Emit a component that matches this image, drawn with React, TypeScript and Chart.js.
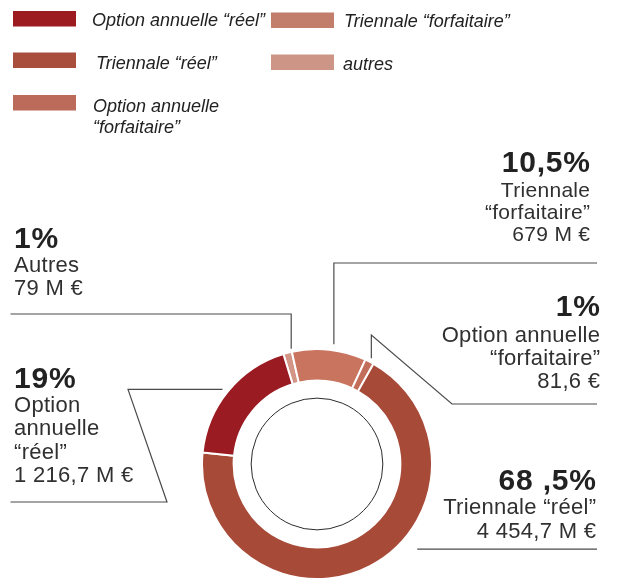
import React, { useEffect, useRef } from "react";
import { Chart, registerables } from "chart.js";

Chart.register(...registerables);

// ---------------- data ----------------
const sliceNames = [
  "autres",
  "Triennale “forfaitaire”",
  "Option annuelle “forfaitaire”",
  "Triennale “réel”",
  "Option annuelle “réel”",
];
const sliceValues = [79, 679, 81.6, 4454.7, 1216.7]; // M €
const sliceColors = ["#d39686", "#c8745f", "#c26e5b", "#a84a38", "#9a1b21"];
const slicePercents = ["1%", "10,5%", "1%", "68 ,5%", "19%"];
const sliceCaptions = [
  ["Autres", "79 M €"],
  ["Triennale", "“forfaitaire”", "679 M €"],
  ["Option annuelle", "“forfaitaire”", "81,6 €"],
  ["Triennale “réel”", "4 454,7 M €"],
  ["Option", "annuelle", "“réel”", "1 216,7 M €"],
];

const legendLabels = [
  ["Option annuelle “réel”"],
  ["Triennale “réel”"],
  ["Option annuelle", "“forfaitaire”"],
  ["Triennale “forfaitaire”"],
  ["autres"],
];
const legendColors = ["#9c1b21", "#a94e3d", "#bc6b5a", "#c27e6b", "#cc9585"];

// ---------------- layout ----------------
const W = 624;
const H = 581;
type P = [number, number];

const legendLayout = [
  { sx: 13, sy: 11, tx: 92, ty: 25.5 },
  { sx: 13, sy: 52.5, tx: 96, ty: 68.5 },
  { sx: 13, sy: 95, tx: 93, ty: 111.5 },
  { sx: 271, sy: 12.5, tx: 344, ty: 26.5 },
  { sx: 271, sy: 54.5, tx: 343, ty: 70 },
];
const SW = 63;
const SH = 15.5;
const LEG_PITCH = 21.5;

const calloutLayout = [
  { x: 14, align: "left", pctBase: 248, lineBase: 272, pitch: 23.3, reg: 22 },
  { x: 590, align: "right", pctBase: 172, lineBase: 197, pitch: 22, reg: 21 },
  { x: 600, align: "right", pctBase: 316, lineBase: 341.5, pitch: 23, reg: 22 },
  { x: 596, align: "right", pctBase: 489.5, lineBase: 514, pitch: 23.5, reg: 22 },
  { x: 14, align: "left", pctBase: 388, lineBase: 411.5, pitch: 23.6, reg: 22 },
];

const leaderLayout: { frac: number; gap: number; path: (a: P) => P[] }[] = [
  { frac: 1.0, gap: 3, path: (a) => [[10.5, 314], [a[0], 314], a] },
  { frac: 0.55, gap: 6, path: (a) => [[597, 263], [a[0], 263], a] },
  { frac: 0.5, gap: 4, path: (a) => [[597, 404], [452, 404], [a[0], 335], a] },
  { frac: 0.44, gap: 0, path: (a) => [[a[0] + 23, a[1]], [597, a[1]]] },
  { frac: 0.516, gap: 0, path: (a) => [[10.5, 502], [167, 502], [128, a[1]], [a[0] - 7, a[1]]] },
];

const BOLD_FONT = 'bold 30px "Liberation Sans", Arial, sans-serif';
const BOLD_SPACING = 0.8;
const REG_SPACING = 0.3;
const LEG_FONT = 'italic 18px "Liberation Sans", Arial, sans-serif';
const TEXT_COLOR = "#303030";

function drawText(ctx: any, text: string, x: number, y: number, align: string, spacing: number) {
  ctx.letterSpacing = `${spacing}px`;
  // trailing letter spacing is added after the last glyph: compensate for right alignment
  ctx.fillText(text, align === "right" ? x + spacing : x, y);
  ctx.letterSpacing = "0px";
}

const overlay = {
  id: "overlay",
  afterDatasetsDraw(chart: any) {
    const ctx: any = chart.ctx;
    const arcs = chart.getDatasetMeta(0).data;
    ctx.save();

    // inner thin circle
    const c = arcs[0].getProps(["x", "y", "innerRadius"], true);
    ctx.beginPath();
    ctx.arc(c.x, c.y, c.innerRadius * 0.79, 0, Math.PI * 2);
    ctx.strokeStyle = "#2b2b2b";
    ctx.lineWidth = 1;
    ctx.stroke();

    // leader lines
    arcs.forEach((arc: any, i: number) => {
      const p = arc.getProps(["x", "y", "startAngle", "endAngle", "outerRadius"], true);
      const L = leaderLayout[i];
      const ang = p.startAngle + L.frac * (p.endAngle - p.startAngle);
      const r = p.outerRadius + L.gap;
      const anchor: P = [p.x + r * Math.cos(ang), p.y + r * Math.sin(ang)];
      const pts = L.path(anchor);
      ctx.beginPath();
      pts.forEach((q, k) => (k ? ctx.lineTo(q[0], q[1]) : ctx.moveTo(q[0], q[1])));
      ctx.strokeStyle = "#4a4a4a";
      ctx.lineWidth = 1.2;
      ctx.stroke();
    });

    // callout texts
    ctx.fillStyle = TEXT_COLOR;
    ctx.textBaseline = "alphabetic";
    calloutLayout.forEach((cl, i) => {
      ctx.textAlign = cl.align;
      ctx.font = BOLD_FONT;
      ctx.fillStyle = "#222";
      drawText(ctx, slicePercents[i], cl.x, cl.pctBase, cl.align, BOLD_SPACING);
      ctx.fillStyle = TEXT_COLOR;
      ctx.font = `${cl.reg}px "Liberation Sans", Arial, sans-serif`;
      sliceCaptions[i].forEach((t, k) =>
        drawText(ctx, t, cl.x, cl.lineBase + k * cl.pitch, cl.align, REG_SPACING)
      );
    });

    // legend
    ctx.textAlign = "left";
    ctx.font = LEG_FONT;
    legendLayout.forEach((lg, i) => {
      ctx.fillStyle = legendColors[i];
      ctx.fillRect(lg.sx, lg.sy, SW, SH);
      ctx.fillStyle = "#222";
      legendLabels[i].forEach((t, k) => ctx.fillText(t, lg.tx, lg.ty + k * LEG_PITCH));
    });

    ctx.restore();
  },
};

export default function App() {
  const ref = useRef<HTMLCanvasElement | null>(null);
  useEffect(() => {
    if (!ref.current) return;
    const chart = new Chart(ref.current, {
      type: "doughnut",
      data: {
        labels: sliceNames,
        datasets: [
          {
            data: sliceValues,
            backgroundColor: sliceColors,
            borderColor: "#ffffff",
            borderWidth: 2,
            hoverBorderWidth: 2,
            hoverOffset: 0,
          },
        ],
      },
      options: {
        responsive: false,
        animation: false,
        devicePixelRatio: 1,
        events: [],
        rotation: -17,
        cutout: "72.5%",
        layout: { padding: { left: 201, right: 191, top: 348, bottom: 1 } },
        plugins: { legend: { display: false }, tooltip: { enabled: false } },
      },
      plugins: [overlay],
    } as any);
    return () => chart.destroy();
  }, []);
  return (
    <div style={{ position: "fixed", left: 0, top: 0, width: W, height: H, background: "#fff" }}>
      <canvas ref={ref} width={W} height={H} style={{ display: "block", width: W, height: H }} />
    </div>
  );
}
